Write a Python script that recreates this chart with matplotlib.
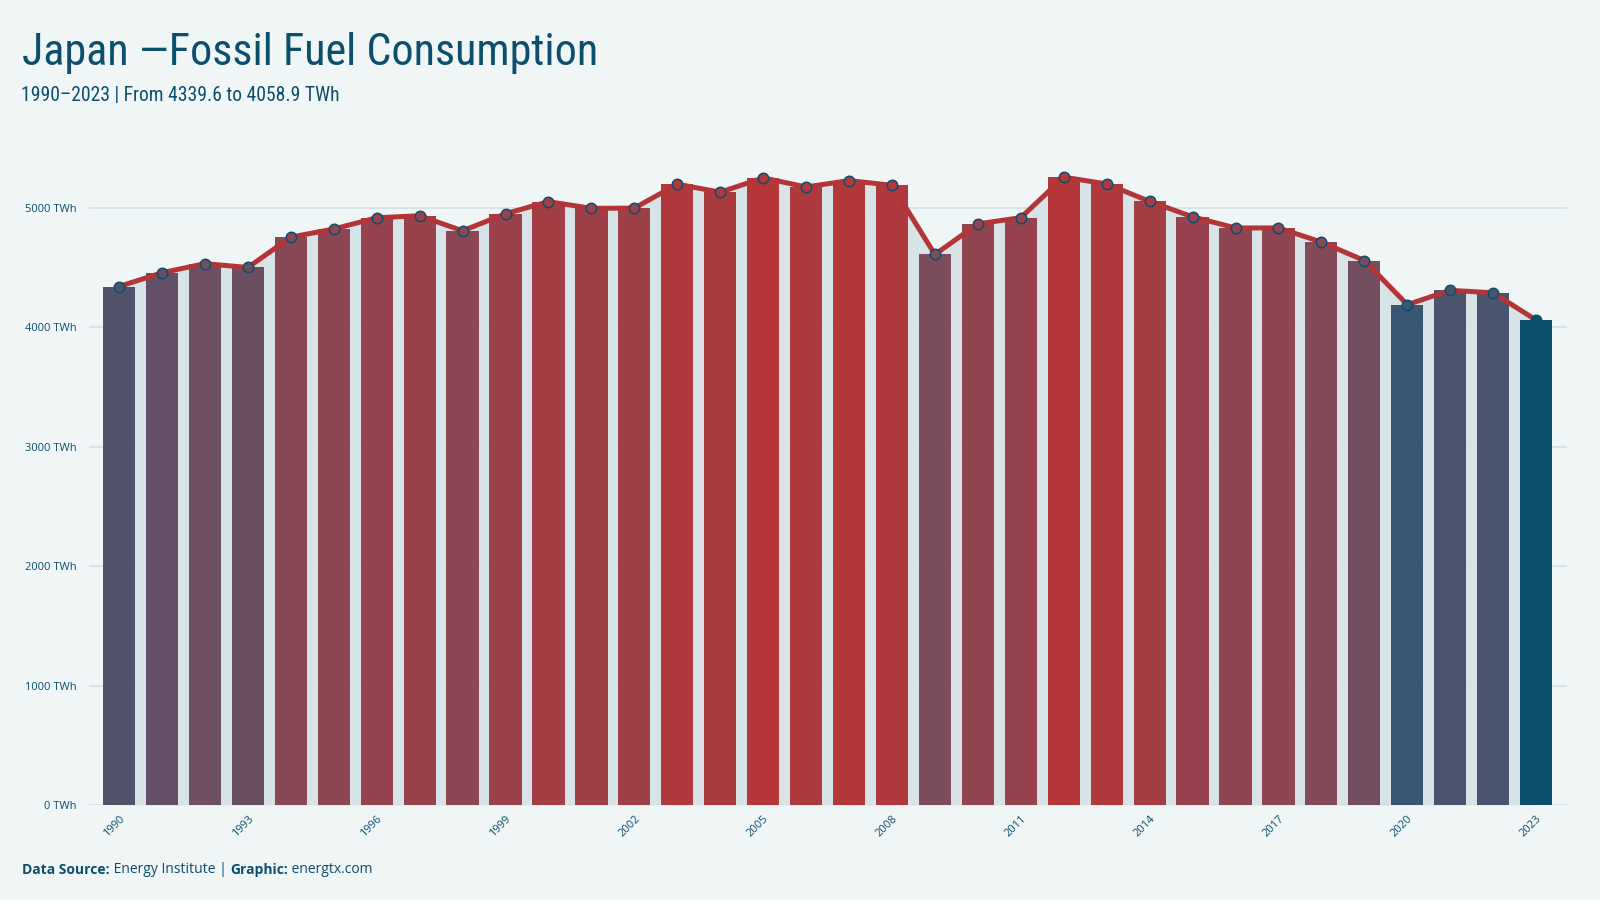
import matplotlib
matplotlib.use('Agg')
import matplotlib.pyplot as plt
from matplotlib.colors import LinearSegmentedColormap, Normalize

# Data: Japan fossil fuel consumption (TWh)
years = list(range(1990, 2024))
values = [4339.6, 4455, 4531, 4499, 4753, 4821, 4915, 4932, 4806, 4949,
          5050, 4994, 4996, 5196, 5129, 5249, 5173, 5226, 5187, 4608,
          4864, 4916, 5255, 5198, 5052, 4923, 4830, 4830, 4712, 4557,
          4188, 4308, 4287, 4058.9]
yticks = [0, 1000, 2000, 3000, 4000, 5000]
xtick_years = list(range(1990, 2024, 3))

colors = {
    'bg': '#f0f5f5',
    'dark': '#0b4f6c',
    'line': '#b33538',
    'fill': '#d6e2e7',
    'grid': '#d3e0e4',
}
narrow = ['Liberation Sans Narrow', 'DejaVu Sans Condensed', 'Roboto Condensed', 'Lato']

# value scale: low -> steel blue, high -> red
cmap = LinearSegmentedColormap.from_list(
    'fossil', [(0.0, '#0b4f6c'), (0.108, '#3a5673'), (0.46, '#7b4d5e'), (1.0, '#b5373a')])
norm = Normalize(vmin=min(values), vmax=max(values))
bar_colors = [cmap(norm(v)) for v in values]

fig = plt.figure(figsize=(16, 9), dpi=100)
fig.patch.set_facecolor(colors['bg'])
ax = fig.add_axes([89 / 1600, 1 - 805 / 900, (1567 - 89) / 1600, 0.7434])
ax.set_facecolor(colors['bg'])

ax.fill_between(years, 0, values, color=colors['fill'], alpha=0.9, zorder=1, linewidth=0)
ax.bar(years, values, width=0.75, color=bar_colors, zorder=2, linewidth=0)
ax.plot(years, values, color=colors['line'], linewidth=3.6, zorder=3, solid_joinstyle='miter')
for x, v, c in zip(years, values, bar_colors):
    ax.plot(x, v, 'o', markersize=7.5, markerfacecolor=c,
            markeredgecolor=colors['dark'], markeredgewidth=1.1, zorder=4)

ax.set_xlim(1989.3, 2023.72)
ax.set_ylim(0, 5600)
ax.set_yticks(yticks)
ax.set_yticklabels([f'{t} TWh' for t in yticks])
ax.set_xticks(xtick_years)
ax.set_xticklabels([str(y) for y in xtick_years], rotation=45, ha='right',
                   rotation_mode='anchor')
ax.tick_params(axis='both', length=0, colors=colors['dark'], labelsize=8)
ax.tick_params(axis='y', pad=9)
ax.tick_params(axis='x', pad=6)
for lab in ax.get_xticklabels() + ax.get_yticklabels():
    lab.set_fontfamily('Open Sans')
ax.grid(True, axis='y', color=colors['grid'], linewidth=1.2, zorder=0)
ax.grid(False, axis='x')
ax.set_axisbelow(True)
for s in ax.spines.values():
    s.set_visible(False)

# titles
title = fig.text(22 / 1600, 1 - 65 / 900, 'Japan \u2014Fossil Fuel Consumption', fontsize=33,
                 family=narrow, color=colors['dark'], va='baseline')
sub = fig.text(21 / 1600, 1 - 101 / 900, '1990\u20132023 | From 4339.6 to 4058.9 TWh', fontsize=17,
               family=narrow, color=colors['dark'], va='baseline')

# fit titles to the reference widths
fig.canvas.draw()
r = fig.canvas.get_renderer()
for t, target in ((title, 576), (sub, 318)):
    w = t.get_window_extent(r).width
    if abs(w - target) > target * 0.03:
        t.set_fontsize(t.get_fontsize() * target / w)

# footer
t1 = fig.text(22 / 1600, 1 - 874 / 900, 'Data Source:', fontsize=10, fontweight='bold',
              family='Open Sans', color=colors['dark'], va='baseline')
t2 = ax.annotate(' Energy Institute | ', xy=(1, 0), xycoords=t1, va='bottom',
                 fontsize=10, family='Open Sans', color=colors['dark'])
t3 = ax.annotate('Graphic:', xy=(1, 0), xycoords=t2, va='bottom', fontsize=10,
                 fontweight='bold', family='Open Sans', color=colors['dark'])
ax.annotate(' energtx.com', xy=(1, 0), xycoords=t3, va='bottom',
            fontsize=10, family='Open Sans', color=colors['dark'])

plt.savefig('out.png', dpi=100, facecolor=colors['bg'])
